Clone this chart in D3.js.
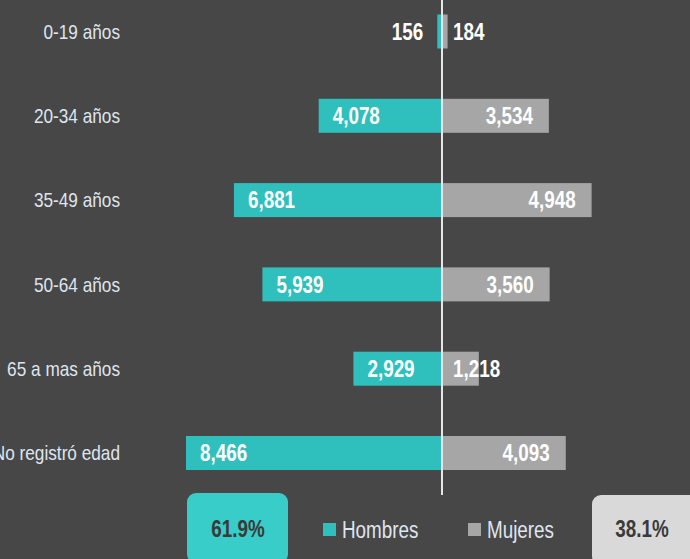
<!DOCTYPE html>
<html>
<head>
<meta charset="utf-8">
<script src="https://cdn.jsdelivr.net/npm/d3@7"></script>
<style>
  html, body { margin: 0; padding: 0; background: #474747; }
  svg { display: block; font-family: "Liberation Sans", Arial, sans-serif; }
</style>
</head>
<body>
<div id="Diagram"></div>
<script>
// data
var categorias = ["0-19 años", "20-34 años", "35-49 años", "50-64 años", "65 a mas años", "No registró edad"];
var hombres = [156, 4078, 6881, 5939, 2929, 8466];
var mujeres = [184, 3534, 4948, 3560, 1218, 4093];
var series = ["Hombres", "Mujeres"];
var porcentajes = ["61.9%", "38.1%"];

var width = 690, height = 559;
var center = 442;
var teal = "#2fc0bd", gris = "#a6a6a6";
var narrow = 0.82; // squeeze the text like a narrow font
var fmt = d3.format(",");

var svg = d3.select("#Diagram")
  .append("svg")
    .attr("width", width)
    .attr("height", height);

svg.append("rect").attr("width", width).attr("height", height).attr("fill", "#474747");

function place(px, py) {
  return "translate(" + px + "," + py + ") scale(" + narrow + ",1)";
}

// scales
var y = d3.scalePoint()
  .domain(categorias)
  .range([31.5, 453]);
var barH = 34;

var x = d3.scaleLinear()
  .domain([0, d3.max(hombres.concat(mujeres))])
  .range([0, 256]);

var rows = categorias.map(function(c, i) {
  return {cat: c, h: hombres[i], m: mujeres[i]};
});

// category labels
svg.append("g")
  .selectAll("text")
  .data(rows)
  .enter()
  .append("text")
    .attr("transform", function(d) { return place(120, y(d.cat)); })
    .attr("dy", "0.35em")
    .attr("text-anchor", "end")
    .attr("fill", "#dfe5ee")
    .style("font-size", "21px")
    .text(function(d) { return d.cat; });

// hombres bars (to the left)
svg.append("g")
  .selectAll("rect")
  .data(rows)
  .enter()
  .append("rect")
    .attr("x", function(d) { return center - x(d.h); })
    .attr("y", function(d) { return y(d.cat) - barH / 2; })
    .attr("width", function(d) { return x(d.h); })
    .attr("height", barH)
    .attr("fill", teal);

// mujeres bars (to the right)
svg.append("g")
  .selectAll("rect")
  .data(rows)
  .enter()
  .append("rect")
    .attr("x", center)
    .attr("y", function(d) { return y(d.cat) - barH / 2; })
    .attr("width", function(d) { return x(d.m); })
    .attr("height", barH)
    .attr("fill", gris);

// value labels
svg.append("g")
  .selectAll("text")
  .data(rows)
  .enter()
  .append("text")
    .attr("transform", function(d) {
      var w = x(d.h);
      return place(w > 60 ? center - w + 14 : center - w - 14, y(d.cat));
    })
    .attr("dy", "0.36em")
    .attr("text-anchor", function(d) { return x(d.h) > 60 ? "start" : "end"; })
    .attr("fill", "#ffffff")
    .style("font-size", "23px")
    .style("font-weight", "bold")
    .text(function(d) { return fmt(d.h); });

svg.append("g")
  .selectAll("text")
  .data(rows)
  .enter()
  .append("text")
    .attr("transform", function(d) {
      var w = x(d.m);
      return place(w > 60 ? center + w - 16 : center + 11, y(d.cat));
    })
    .attr("dy", "0.36em")
    .attr("text-anchor", function(d) { return x(d.m) > 60 ? "end" : "start"; })
    .attr("fill", "#ffffff")
    .style("font-size", "23px")
    .style("font-weight", "bold")
    .text(function(d) { return fmt(d.m); });

// center line
svg.append("line")
  .attr("x1", center).attr("x2", center)
  .attr("y1", 0).attr("y2", 495)
  .attr("stroke", "#e6e6e6")
  .attr("stroke-width", 2);

// share boxes
var boxes = [
  {label: porcentajes[0], x: 187, y: 493, w: 101, tx: 238, fill: "#38cdc8"},
  {label: porcentajes[1], x: 592, y: 495, w: 110, tx: 642, fill: "#d9d9d9"}
];
svg.append("g")
  .selectAll("rect")
  .data(boxes)
  .enter()
  .append("rect")
    .attr("x", function(d) { return d.x; })
    .attr("y", function(d) { return d.y; })
    .attr("width", function(d) { return d.w; })
    .attr("height", 70)
    .attr("rx", 9)
    .attr("fill", function(d) { return d.fill; });
svg.append("g")
  .selectAll("text")
  .data(boxes)
  .enter()
  .append("text")
    .attr("transform", function(d) { return place(d.tx, 529); })
    .attr("dy", "0.35em")
    .attr("text-anchor", "middle")
    .attr("fill", "#3a3a3a")
    .style("font-size", "23px")
    .style("font-weight", "bold")
    .text(function(d) { return d.label; });

// legend
var legend = svg.append("g")
  .selectAll("g")
  .data(series)
  .enter()
  .append("g")
    .attr("transform", function(d, i) { return "translate(" + (323 + i * 145) + ",523)"; });
legend.append("rect")
  .attr("width", 13).attr("height", 13)
  .attr("fill", function(d, i) { return i === 0 ? teal : gris; });
legend.append("text")
  .attr("transform", place(19, 7))
  .attr("dy", "0.36em")
  .attr("fill", "#dfe5ee")
  .style("font-size", "23px")
  .text(function(d) { return d; });
</script>
</body>
</html>
